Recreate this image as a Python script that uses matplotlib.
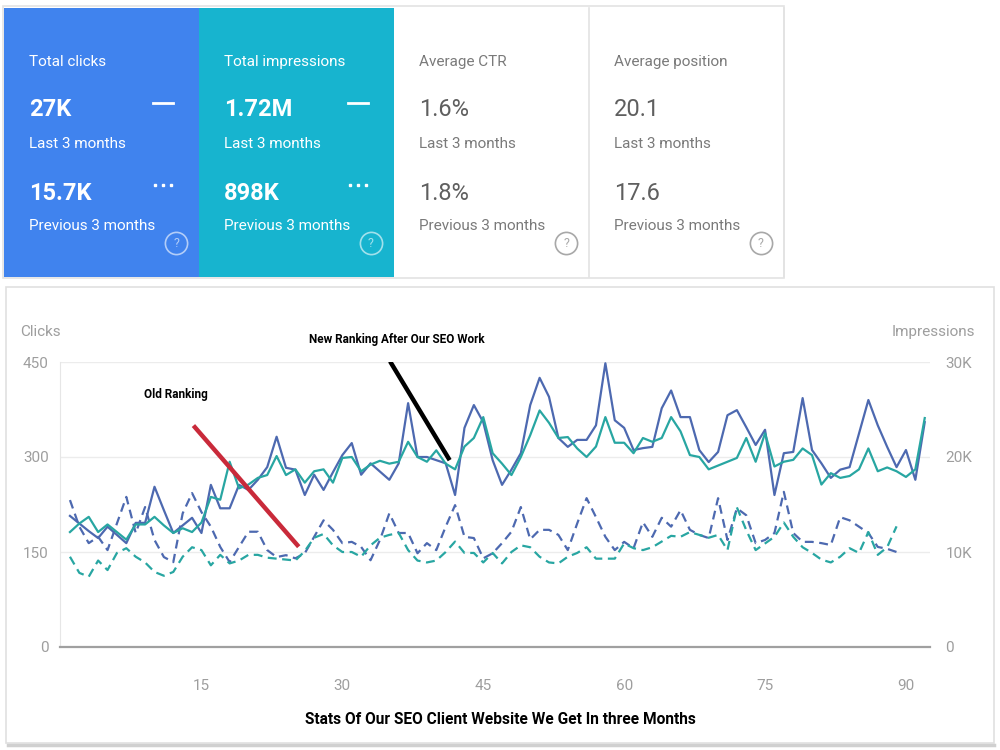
import matplotlib
matplotlib.use('Agg')
import matplotlib.pyplot as plt
from matplotlib.patches import Rectangle
from matplotlib.lines import Line2D
from matplotlib import font_manager
import numpy as np

# ---- data ----
card_titles = ['Total clicks', 'Total impressions', 'Average CTR', 'Average position']
card_last = ['27K', '1.72M', '1.6%', '20.1']
card_prev = ['15.7K', '898K', '1.8%', '17.6']
period_labels = ['Last 3 months', 'Previous 3 months']

clicks_cur = [207, 195, 183, 172, 190, 177, 164, 196, 196, 253, 216, 180, 192, 204, 180,
              256, 219, 219, 256, 248, 264, 284, 332, 283, 280, 240, 272, 248, 276, 303,
              322, 272, 290, 277, 264, 290, 385, 300, 300, 295, 290, 240, 346, 382, 355,
              295, 256, 280, 306, 382, 425, 395, 330, 316, 327, 327, 350, 448, 358, 346,
              311, 314, 316, 377, 405, 363, 363, 311, 292, 308, 366, 374, 347, 319, 343,
              240, 306, 308, 393, 311, 290, 267, 280, 284, 337, 390, 350, 316, 284, 311,
              264, 355]
impr_cur = [12100, 13000, 13700, 12100, 12900, 12100, 11300, 12900, 12900, 13700, 12800,
            12000, 12500, 12100, 13100, 15800, 15500, 19500, 16700, 17100, 17800, 18100,
            20100, 18100, 18700, 17300, 18500, 18700, 17300, 19900, 20000, 18500, 19200,
            19600, 19300, 19500, 21600, 20000, 19500, 20700, 19300, 18700, 21100, 22000,
            24200, 20400, 19300, 18100, 20000, 22300, 24900, 23600, 22000, 22100, 20900,
            20000, 21100, 24200, 21500, 21500, 20400, 22000, 21600, 22000, 24200, 22700,
            20200, 20000, 18700, 19100, 19500, 19900, 22000, 19500, 22500, 19000, 19500,
            19700, 20900, 20200, 17100, 18300, 17800, 18000, 18700, 20900, 18500, 18900,
            18500, 17900, 18700, 24100]
clicks_prev = [232, 190, 164, 174, 153, 195, 237, 180, 221, 169, 142, 134, 211, 243, 213,
               190, 158, 134, 158, 182, 182, 153, 142, 145, 140, 148, 174, 200, 185, 164,
               166, 158, 137, 169, 211, 180, 180, 148, 164, 153, 190, 224, 174, 172, 140,
               148, 164, 182, 221, 170, 185, 185, 177, 153, 195, 235, 205, 174, 153, 166,
               156, 197, 174, 204, 190, 216, 185, 177, 172, 235, 169, 219, 208, 164, 169,
               180, 245, 180, 166, 166, 164, 161, 205, 200, 190, 180, 158, 155, 150]
impr_prev = [9500, 7800, 7400, 9100, 8100, 9900, 10400, 9500, 8900, 7900, 7500, 7900, 9500,
             10500, 10200, 8600, 9700, 8800, 9100, 9700, 9700, 9400, 9300, 9200, 9100, 10100,
             11500, 11900, 10700, 10000, 10000, 9500, 10700, 11500, 11800, 12000, 10200, 9100,
             8900, 9100, 10000, 11100, 9900, 9900, 8900, 9900, 8800, 10000, 10700, 10500, 9500,
             8900, 8800, 9500, 9900, 10500, 9300, 9300, 9300, 10900, 10400, 10200, 10500, 11100,
             11700, 11600, 12100, 11800, 11500, 11800, 10200, 14700, 12300, 10200, 10900, 11600,
             13100, 11600, 10500, 9900, 9200, 8900, 9500, 10400, 9900, 12100, 9700, 10500, 12700]

days_cur = np.arange(1, len(clicks_cur) + 1)
days_prev = np.arange(1, len(clicks_prev) + 1)

# ---- style ----
names = {f.name for f in font_manager.fontManager.ttflist}
NARROW = 'Liberation Sans Narrow' if 'Liberation Sans Narrow' in names else 'Roboto'
plt.rcParams['font.family'] = [NARROW, 'DejaVu Sans']

C_CLICK = '#4d69b0'
C_IMPR = '#28a6a2'
CARD_COLORS = ['#4083ee', '#17b4cf', 'white', 'white']
GREY_TXT = '#9e9e9e'
LAB = 11
VAL = 17

fig = plt.figure(figsize=(10, 7.5), dpi=100)
fig.patch.set_facecolor('white')


def fx(x):
    return x / 1000.0


def fy(y):
    return 1 - y / 750.0


tf = fig.transFigure

# top card strip
fig.add_artist(Rectangle((fx(3), fy(278)), fx(781), (278 - 6) / 750.0, transform=tf,
                         facecolor='white', edgecolor='#e3e3e3', lw=1.2))
for i, title in enumerate(card_titles):
    left = 4 + i * 195
    fc = CARD_COLORS[i]
    if fc != 'white':
        fig.add_artist(Rectangle((fx(left), fy(277)), fx(195), (277 - 8) / 750.0,
                                 transform=tf, facecolor=fc, edgecolor='none'))
        lab_c, val_c, icon_c = 'white', 'white', (1, 1, 1, 0.6)
        weight = 'bold'
    else:
        fig.add_artist(Line2D([fx(left + 195)] * 2, [fy(8), fy(277)], transform=tf,
                              color='#e3e3e3', lw=1.2))
        lab_c, val_c, icon_c = '#7a7a7a', '#5f5f5f', '#a8a8a8'
        weight = 'normal'
    tx = fx(left + 25)
    fig.text(tx, fy(62), title, color=lab_c, fontsize=LAB, va='center')
    fig.text(tx, fy(110), card_last[i], color=val_c, fontsize=VAL, weight=weight, va='center')
    fig.text(tx, fy(144), period_labels[0], color=lab_c, fontsize=LAB, va='center')
    fig.text(tx, fy(193), card_prev[i], color=val_c, fontsize=VAL, weight=weight, va='center')
    fig.text(tx, fy(226), period_labels[1], color=lab_c, fontsize=LAB, va='center')
    if fc != 'white':
        fig.add_artist(Line2D([fx(left + 149), fx(left + 169)], [fy(103)] * 2,
                              transform=tf, color='white', lw=2))
        fig.add_artist(Line2D([fx(left + 151), fx(left + 159), fx(left + 167)], [fy(185)] * 3,
                              transform=tf, color='white', ls='none', marker='s', ms=1.8))
    fig.add_artist(Line2D([fx(left + 172)], [fy(243)], transform=tf, ls='none', marker='o',
                          ms=16, mfc='none', mec=icon_c, mew=1.2))
    fig.text(fx(left + 172), fy(243), '?', color=icon_c, fontsize=9, ha='center', va='center')

# chart panel
fig.add_artist(Rectangle((fx(6), fy(743)), fx(988), (743 - 287) / 750.0, transform=tf,
                         facecolor='none', edgecolor='#e0e0e0', lw=1.2))
fig.add_artist(Line2D([fx(8), fx(994)], [fy(745)] * 2, transform=tf, color='#d0d0d0', lw=2.5))

ax = fig.add_axes([0.06, fy(647), 0.87, (647 - 362) / 750.0])
ax2 = ax.twinx()

ax.plot(days_prev, clicks_prev, color=C_CLICK, lw=1.6, ls=(0, (4, 2.5)))
ax.plot(days_cur, clicks_cur, color=C_CLICK, lw=1.6)
ax2.plot(days_prev, impr_prev, color=C_IMPR, lw=1.6, ls=(0, (4, 2.5)))
ax2.plot(days_cur, impr_cur, color=C_IMPR, lw=1.6)

ax.set_xlim(-0.06, 92.56)
ax.set_ylim(0, 450)
ax2.set_ylim(0, 30000)
ax.set_xticks([15, 30, 45, 60, 75, 90])
ax.set_yticks([0, 150, 300, 450])
ax2.set_yticks([0, 10000, 20000, 30000])
ax2.set_yticklabels(['0', '10K', '20K', '30K'])

for a in (ax, ax2):
    for s in a.spines.values():
        s.set_visible(False)
ax.spines['bottom'].set_visible(True)
ax.spines['bottom'].set_color('#a0a0a0')
ax.spines['bottom'].set_linewidth(1.6)
ax.spines['left'].set_visible(True)
ax.spines['left'].set_color('#e6e6e6')
ax.yaxis.grid(True, color='#ececec', lw=1)
ax.set_axisbelow(True)
ax.tick_params(axis='y', length=0, pad=8, labelsize=11, labelcolor=GREY_TXT)
ax.tick_params(axis='x', length=0, pad=23, labelsize=11, labelcolor=GREY_TXT)
ax2.tick_params(axis='y', length=0, pad=11, labelsize=11, labelcolor=GREY_TXT)

fig.text(fx(20), fy(332), 'Clicks', color=GREY_TXT, fontsize=11, va='center')
fig.text(fx(975), fy(332), 'Impressions', color=GREY_TXT, fontsize=11, va='center', ha='right')

# hand-drawn annotation strokes
ax2.add_line(Line2D([14.3, 25.2], [347, 161], transform=ax.transData, color='#c92a3a',
                    lw=3.2, zorder=10))
ax2.add_line(Line2D([35.2, 41.3], [448, 298], transform=ax.transData, color='black',
                    lw=3.2, zorder=10))
ax2.text(12.3, 398, 'Old Ranking', transform=ax.transData, fontsize=8.5, weight='bold',
         ha='center', va='center')
ax2.text(35.8, 486, 'New Ranking After Our SEO Work', transform=ax.transData, fontsize=8.5,
         weight='bold', ha='center', va='center', clip_on=False)

fig.text(0.5, fy(719), 'Stats Of Our SEO Client Website We Get In three Months',
         fontsize=11.2, weight='bold', ha='center', va='center')

fig.savefig('out.png', dpi=100)
